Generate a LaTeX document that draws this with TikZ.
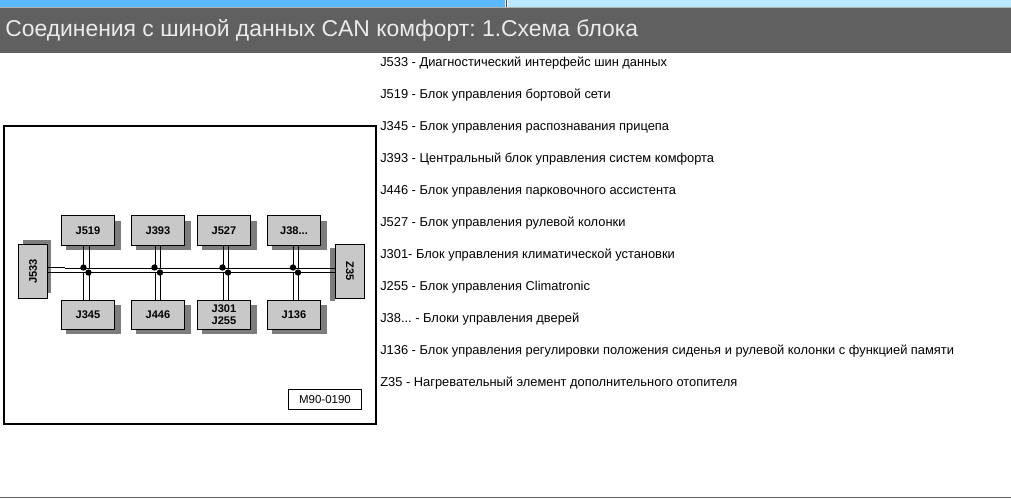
\documentclass[tikz,border=0pt]{standalone}
\usepackage{fontspec}
\setmainfont{Liberation Sans}
\usetikzlibrary{positioning}
\definecolor{blockgray}{RGB}{200,200,200}
\definecolor{shadegray}{RGB}{125,125,125}
\definecolor{bandgray}{RGB}{96,96,96}
\definecolor{topblue}{RGB}{90,184,255}
\definecolor{paleblue}{RGB}{185,232,255}
\frenchspacing
\tikzset{
    unitbox/.style={draw=black, line width=0.75pt, fill=blockgray, minimum width=39pt, minimum height=21pt, inner sep=0pt, font=\bfseries\fontsize{8}{8.6}\selectfont, align=center},
    endbox/.style={unitbox, minimum width=21pt, minimum height=39pt},
    shade/.style={fill=shadegray, draw=none},
    joint/.style={circle, fill=black, inner sep=0pt, minimum size=4.6pt},
    wire/.style={line width=0.72pt},
    legend/.style={anchor=west, inner sep=0pt, font=\fontsize{9.3}{11}\selectfont}
}
\begin{document}
\begin{tikzpicture}[x=0.0254cm, y=-0.0254cm]
    \useasboundingbox (0,0) rectangle (1011,498);
    
    % Top band
    \fill[topblue] (0,0) rectangle (505,7);
    \fill[paleblue] (508,0) rectangle (1011,7);
    \fill[black!70] (505.5,0) rectangle (507,7);
    \fill[gray!60] (0,7) rectangle (1011,8);
    \fill[bandgray] (0,8) rectangle (1011,53);
    \node[anchor=west, inner sep=0pt, text=white!92!black, font=\fontsize{16.55}{20}\selectfont] (heading) at (5,30.5) {Соединения с шиной данных CAN комфорт: 1.Схема блока};
    \draw[bandgray, line width=0.7pt] (0,497.5) -- (1011,497.5);
    
    % Frame
    \draw[line width=1.5pt] (4,126) rectangle (376,424);
    
    % Shadows
    \foreach \x/\y in {66/221,136/221,202/221,272/221,66/305,136/305,202/305,272/305}
        \fill[shade] (\x,\y) rectangle ++(55,29);
    \fill[shade] (23,240) rectangle ++(28,53);
    \fill[shade] (335,248) rectangle ++(-5,53);
    
    % Units
    \node[unitbox] (j519) at (88,230.5) {J519};
    \node[unitbox] (j393) at (158,230.5) {J393};
    \node[unitbox] (j527) at (224,230.5) {J527};
    \node[unitbox] (j38) at (294,230.5) {J38...};
    \node[unitbox] (j345) at (88,315) {J345};
    \node[unitbox] (j446) at (158,315) {J446};
    \node[unitbox] (j301) at (224,315) {J301\\J255};
    \node[unitbox] (j136) at (294,315) {J136};
    \node[endbox] (j533) at (33,271.5) {\rotatebox{90}{J533}};
    \node[endbox] (z35) at (350,271.5) {\rotatebox{-90}{Z35}};
    
    % Joints
    \foreach \name/\x in {a/83.5,b/154.5,c/222.5,d/293}
        \node[joint] (up\name) at (\x,267.5) {};
    \foreach \name/\x in {a/88.5,b/160,c/228,d/298}
        \node[joint] (lo\name) at (\x,272.5) {};
    
    % Wires
    \coordinate (step) at (65,267.5);
    \coordinate (busup) at (65,268.5);
    \coordinate (buslo) at (65,272.5);
    \draw[wire] (j533.east |- step) -- (step);
    \draw[wire] (busup) -- (z35.west |- busup);
    \draw[wire] (j533.east |- buslo) -- (z35.west |- buslo);
    \foreach \name/\xl/\xr/\upper/\lower in {a/83.5/89.5/j519/j345,b/155.5/160.5/j393/j446,c/223.5/228.5/j527/j301,d/293.5/298.5/j38/j136} {
        \coordinate (left\name) at (\xl,268.5);
        \coordinate (right\name) at (\xr,268.5);
        \draw[wire] (left\name) -- (\upper.south -| left\name);
        \draw[wire] (right\name) -- (\upper.south -| right\name);
        \draw[wire] (left\name |- buslo) -- (\lower.north -| left\name);
        \draw[wire] (right\name |- buslo) -- (\lower.north -| right\name);
    }
    
    % Stamp
    \node[draw, line width=1pt, minimum width=52.5pt, minimum height=14.5pt, inner sep=0pt, font=\fontsize{8.3}{9}\selectfont] (stamp) at (325,399.5) {M90-0190};
    
    % Legend
    \node[legend] (l1) at (380,63) {J533 - Диагностический интерфейс шин данных};
    \node[legend] (l2) at (380,95) {J519 - Блок управления бортовой сети};
    \node[legend] (l3) at (380,127) {J345 - Блок управления распознавания прицепа};
    \node[legend] (l4) at (380,159) {J393 - Центральный блок управления систем комфорта};
    \node[legend] (l5) at (380,191) {J446 - Блок управления парковочного ассистента};
    \node[legend] (l6) at (380,223) {J527 - Блок управления рулевой колонки};
    \node[legend] (l7) at (380,255) {J301- Блок управления климатической установки};
    \node[legend] (l8) at (380,287) {J255 - Блок управления Climatronic};
    \node[legend] (l9) at (380,319) {J38... - Блоки управления дверей};
    \node[legend] (l10) at (380,351) {J136 - Блок управления регулировки положения сиденья и рулевой колонки с функцией памяти};
    \node[legend] (l11) at (380,383) {Z35 - Нагревательный элемент дополнительного отопителя};
\end{tikzpicture}
\end{document}
